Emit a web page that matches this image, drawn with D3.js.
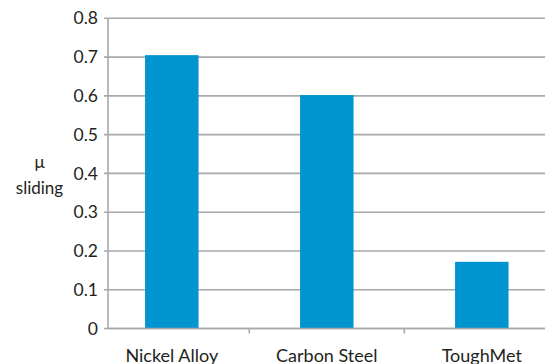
<!DOCTYPE html>
<html>
<head>
<meta charset="utf-8">
<script src="https://cdn.jsdelivr.net/npm/d3@7"></script>
<style>
  body { margin: 0; background: #fff; }
  text { font-family: "Lato", "Open Sans", sans-serif; fill: #231f20; }
</style>
</head>
<body>
<div id="root"></div>
<script>
// data
const categories = ["Nickel Alloy", "Carbon Steel", "ToughMet"];
const muSliding = [0.705, 0.602, 0.172];
const yTicks = [0, 0.1, 0.2, 0.3, 0.4, 0.5, 0.6, 0.7, 0.8];

const width = 545, height = 364;
const axisX = 108;

const svg = d3.select("#root").append("svg")
  .attr("width", width)
  .attr("height", height);

// scales
const x = d3.scaleBand()
  .domain(categories)
  .range([94.3, 559.3])
  .padding(0);
const y = d3.scaleLinear()
  .domain([0, 0.8])
  .range([328.5, 18.3]);

const barW = x.bandwidth() * 0.345;
const gridColor = "#a7a9ac";

// gridlines
svg.append("g")
  .selectAll("line")
  .data(yTicks)
  .join("line")
  .attr("x1", axisX - 4)
  .attr("x2", width)
  .attr("y1", d => y(d))
  .attr("y2", d => y(d))
  .attr("stroke", gridColor)
  .attr("stroke-width", 1.6);

// y tick labels
svg.append("g")
  .selectAll("text")
  .data(yTicks)
  .join("text")
  .attr("x", 98)
  .attr("y", d => y(d))
  .attr("dy", "0.35em")
  .attr("text-anchor", "end")
  .style("font-size", "17.5px")
  .text(d => d === 0 ? "0" : d3.format(".1f")(d));

// y axis line
svg.append("line")
  .attr("x1", axisX).attr("x2", axisX)
  .attr("y1", y(0.8)).attr("y2", y(0))
  .attr("stroke", gridColor)
  .attr("stroke-width", 1.6);

// bars
svg.append("g")
  .selectAll("rect")
  .data(categories)
  .join("rect")
  .attr("x", d => x(d) + x.bandwidth() / 2 - barW / 2)
  .attr("width", barW)
  .attr("y", (d, i) => y(muSliding[i]))
  .attr("height", (d, i) => y(0) - y(muSliding[i]))
  .attr("fill", "#0094d0");

// x axis line + ticks
svg.append("line")
  .attr("x1", axisX).attr("x2", width)
  .attr("y1", y(0)).attr("y2", y(0))
  .attr("stroke", gridColor)
  .attr("stroke-width", 1.6);
svg.append("g")
  .selectAll("line")
  .data(categories.slice(1))
  .join("line")
  .attr("x1", d => x(d)).attr("x2", d => x(d))
  .attr("y1", y(0)).attr("y2", y(0) + 5)
  .attr("stroke", gridColor)
  .attr("stroke-width", 1.6);

// x labels
svg.append("g")
  .selectAll("text")
  .data(categories)
  .join("text")
  .attr("x", d => x(d) + x.bandwidth() / 2)
  .attr("y", 361.5)
  .attr("text-anchor", "middle")
  .style("font-size", "18px")
  .text(d => d);

// y axis title
const title = svg.append("text")
  .attr("text-anchor", "middle")
  .style("font-size", "17px");
title.append("tspan").attr("x", 39.5).attr("y", 168).text("μ");
title.append("tspan").attr("x", 39.5).attr("y", 194).text("sliding");
</script>
</body>
</html>
